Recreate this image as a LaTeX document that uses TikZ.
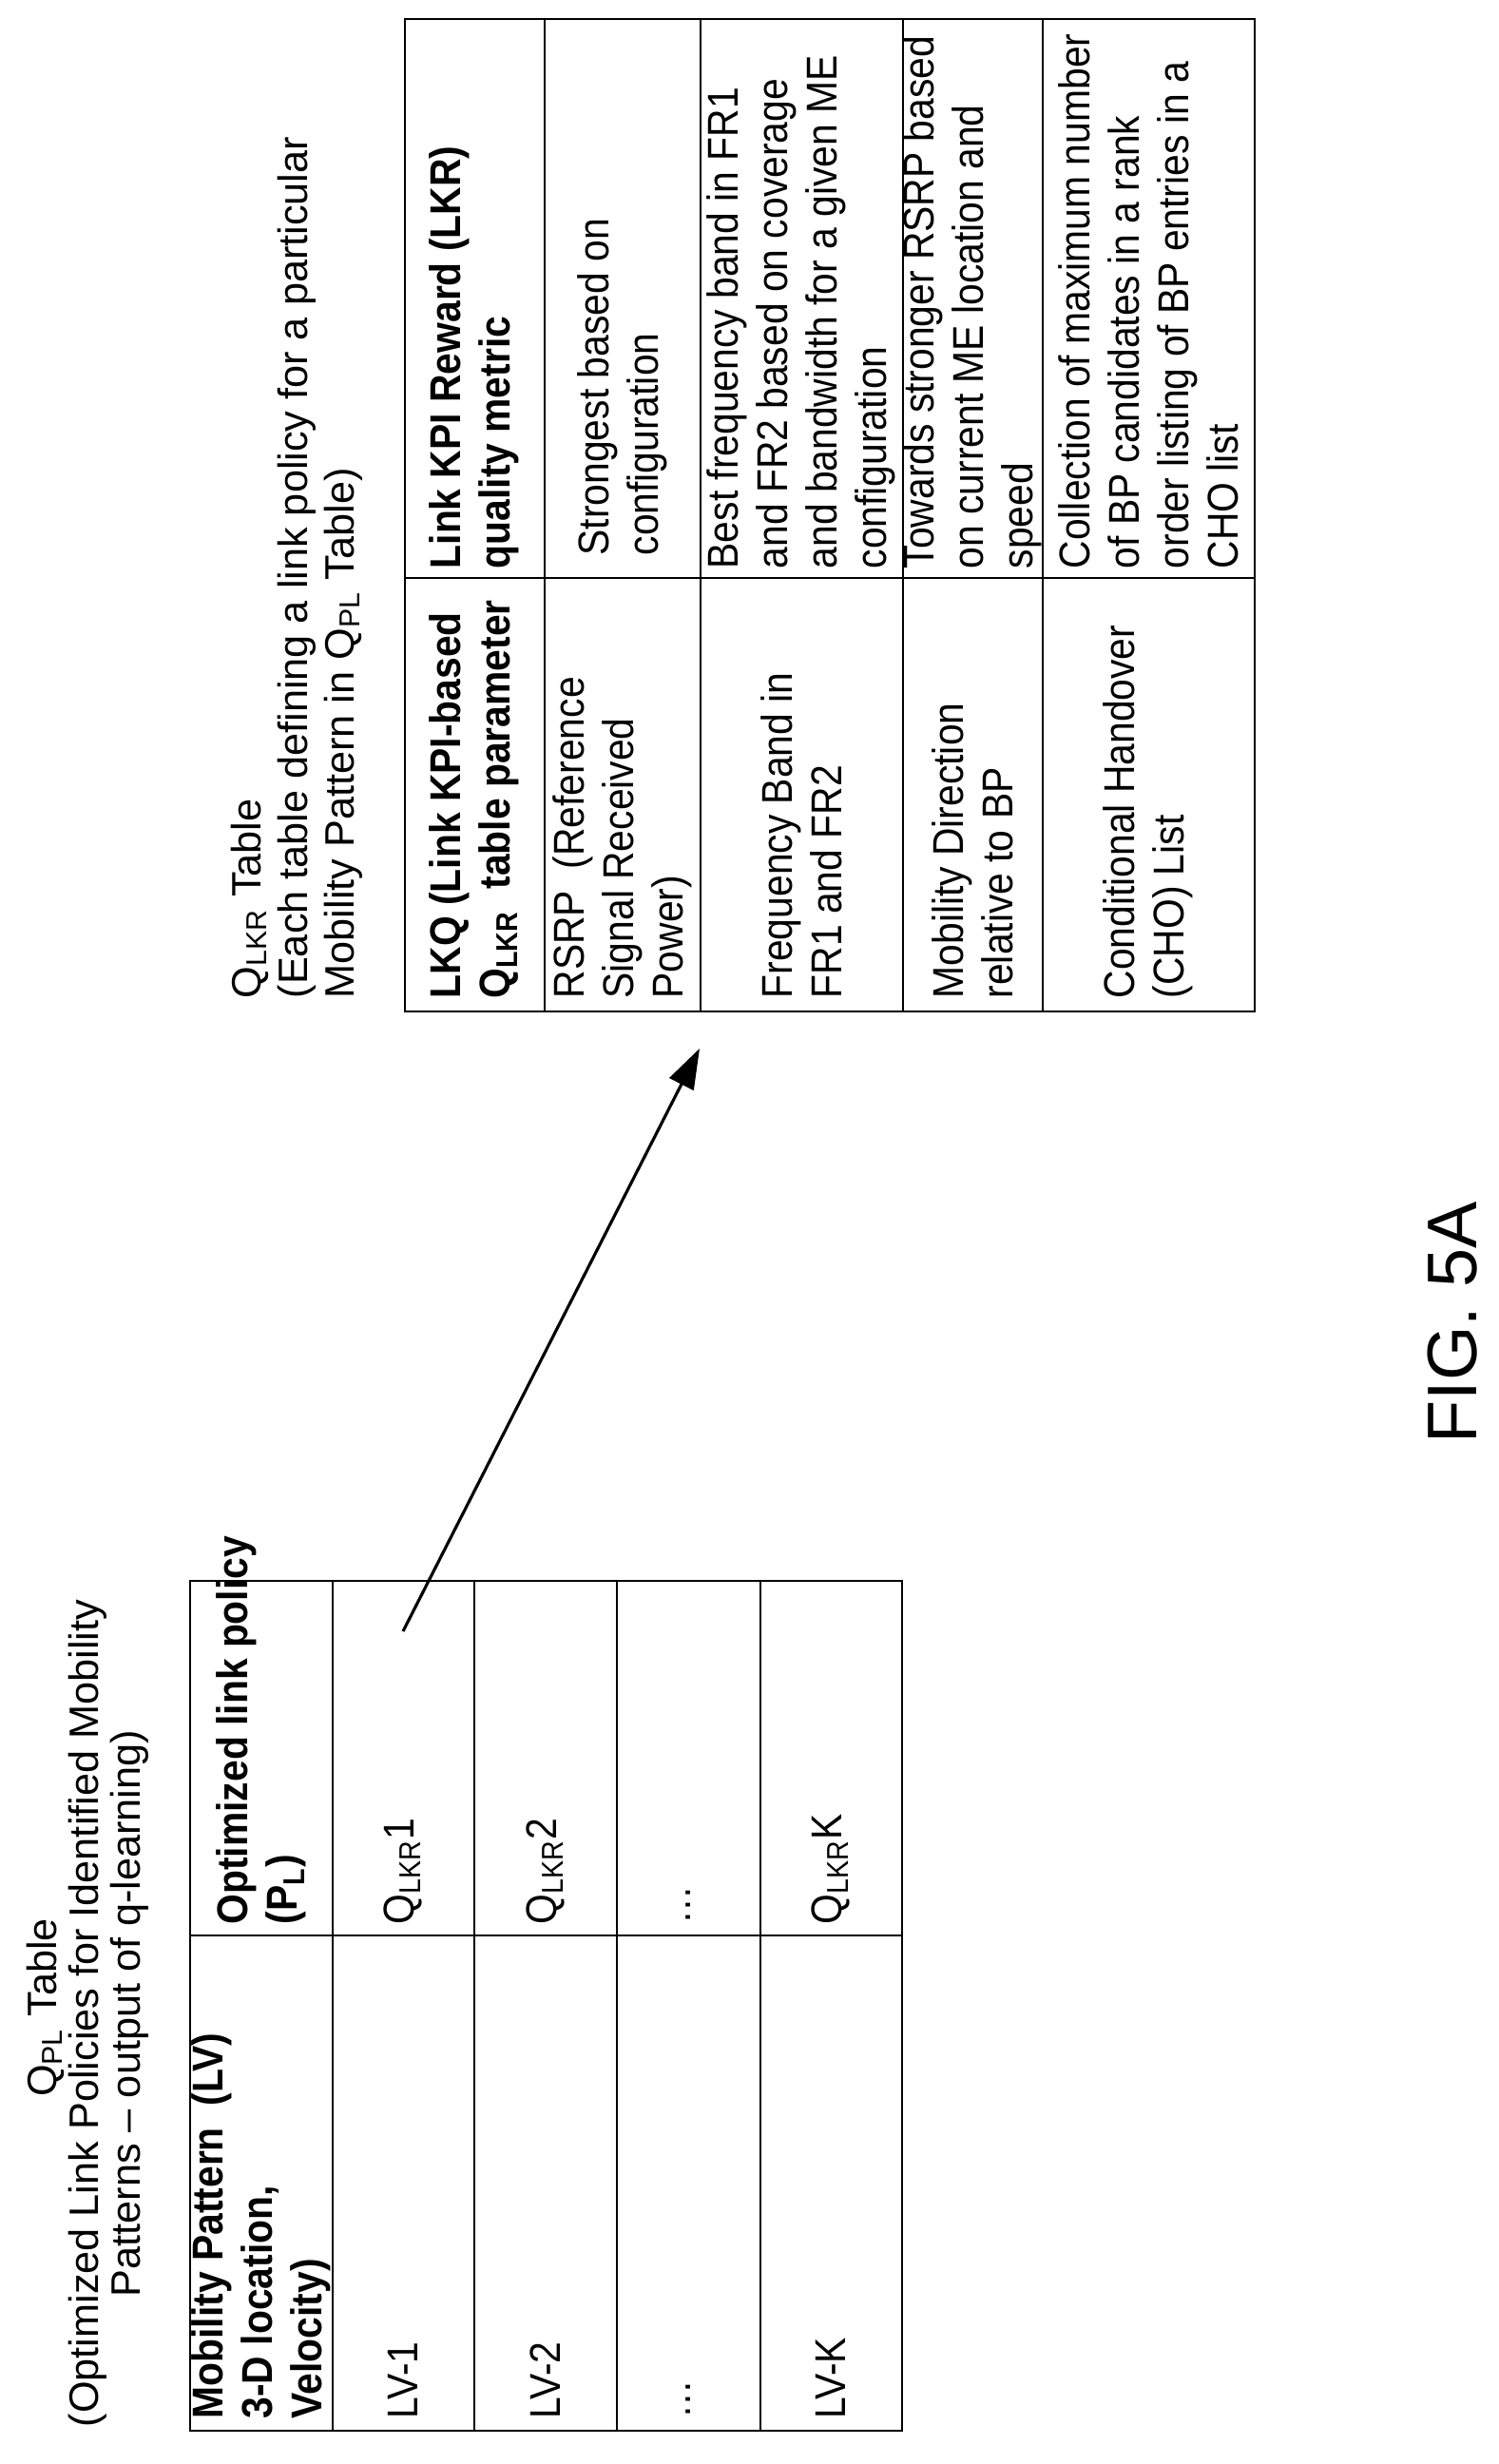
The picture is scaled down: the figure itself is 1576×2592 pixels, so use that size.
\documentclass[tikz,border=0pt]{standalone}
\usepackage{fontspec}
\setmainfont{Liberation Sans}
\newfontfamily\tabfont{Liberation Sans}[FakeStretch=0.9]
\newfontfamily\figfont{Liberation Sans}
\usetikzlibrary{arrows.meta}
\begin{document}
\begin{tikzpicture}[x=0.01cm,y=-0.01cm,
  txt/.style={rotate=90,inner sep=0pt,align=left,font=\tabfont\fontsize{12.9}{14.8}\selectfont},
  hdr/.style={txt,font=\tabfont\fontsize{12.9}{14.8}\selectfont\bfseries},
  ttl/.style={rotate=90,inner sep=0pt,font=\fontsize{12.3}{14}\selectfont},
  grid/.style={line width=0.6pt}]
\useasboundingbox (0,0) rectangle (1576,2592);
% Q_LKR table
\draw[grid] (426,20) rectangle (1320,1064);
\foreach \x in {573,737,950,1097} \draw[grid] (\x,20) -- (\x,1064);
\draw[grid] (426,608) -- (1320,608);
% Q_PL table
\draw[grid] (200,1663) rectangle (949,2557);
\foreach \x in {350,499,649,800} \draw[grid] (\x,1663) -- (\x,2557);
\draw[grid] (200,2036) -- (949,2036);
% titles
\node[ttl,anchor=west] (t2a) at (263,1051) {Q\textsubscript{LKR} Table};
\node[ttl,anchor=west] (t2b) at (312,1051) {(Each table defining a link policy for a particular};
\node[ttl,anchor=west] (t2c) at (361,1051) {Mobility Pattern in Q\textsubscript{PL} Table)};
\node[ttl,anchor=center] (t1a) at (48,2112) {Q\textsubscript{PL} Table};
\node[ttl,anchor=center] (t1b) at (92,2118) {(Optimized Link Policies for Identified Mobility};
\node[ttl,anchor=center] (t1c) at (136,2118) {Patterns -- output of q-learning)};
% Q_LKR content
\node[hdr,anchor=west] (h1) at (499,1051) {LKQ (Link KPI-based\\Q\textsubscript{LKR}\ \ table parameter};
\node[hdr,anchor=west] (h2) at (499,599) {Link KPI Reward (LKR)\\quality metric};
\node[txt,anchor=west] (r1a) at (655,1051) {RSRP\ \ (Reference\\Signal Received\\Power)};
\node[txt,anchor=west] (r1b) at (655,585) {Strongest based on\\configuration};
\node[txt,anchor=west] (r2a) at (843,1051) {Frequency Band in\\FR1 and FR2};
\node[txt,anchor=west] (r2b) at (843,599) {Best frequency band in FR1\\and FR2 based on coverage\\and bandwidth for a given ME\\configuration};
\node[txt,anchor=west] (r3a) at (1023,1051) {Mobility Direction\\relative to BP};
\node[txt,anchor=west] (r3b) at (1023,599) {Towards stronger RSRP based\\on current ME location and\\speed};
\node[txt,anchor=west] (r4a) at (1208,1051) {Conditional Handover\\(CHO) List};
\node[txt,anchor=west] (r4b) at (1208,599) {Collection of maximum number\\of BP candidates in a rank\\order listing of BP entries in a\\CHO list};
% Q_PL content
\node[hdr,anchor=west] (p1) at (275,2545) {Mobility Pattern\ \ (LV)\\3-D location,\\Velocity)};
\node[hdr,anchor=west] (p2) at (275,2025) {Optimized link policy\\(P\textsubscript{L})};
\node[txt,anchor=west] (l1) at (424,2545) {LV-1};
\node[txt,anchor=west] (q1) at (424,2025) {Q\textsubscript{LKR}1};
\node[txt,anchor=west] (l2) at (574,2545) {LV-2};
\node[txt,anchor=west] (q2) at (574,2025) {Q\textsubscript{LKR}2};
\node[txt,anchor=west] (l3) at (724,2545) {\dots};
\node[txt,anchor=west] (q3) at (724,2025) {\dots};
\node[txt,anchor=west] (l4) at (874,2545) {LV-K};
\node[txt,anchor=west] (q4) at (874,2025) {Q\textsubscript{LKR}K};
% arrow
\coordinate (as) at (424,1716);
\coordinate (ae) at (736,1103);
\draw[line width=0.9pt,-{Triangle[length=12pt,width=8pt]}] (as) -- (ae);
% figure label
\node[rotate=90,inner sep=0pt,font=\figfont\fontsize{21}{24}\selectfont] (fig) at (1528,1391) {FIG. 5A};
\end{tikzpicture}
\end{document}
